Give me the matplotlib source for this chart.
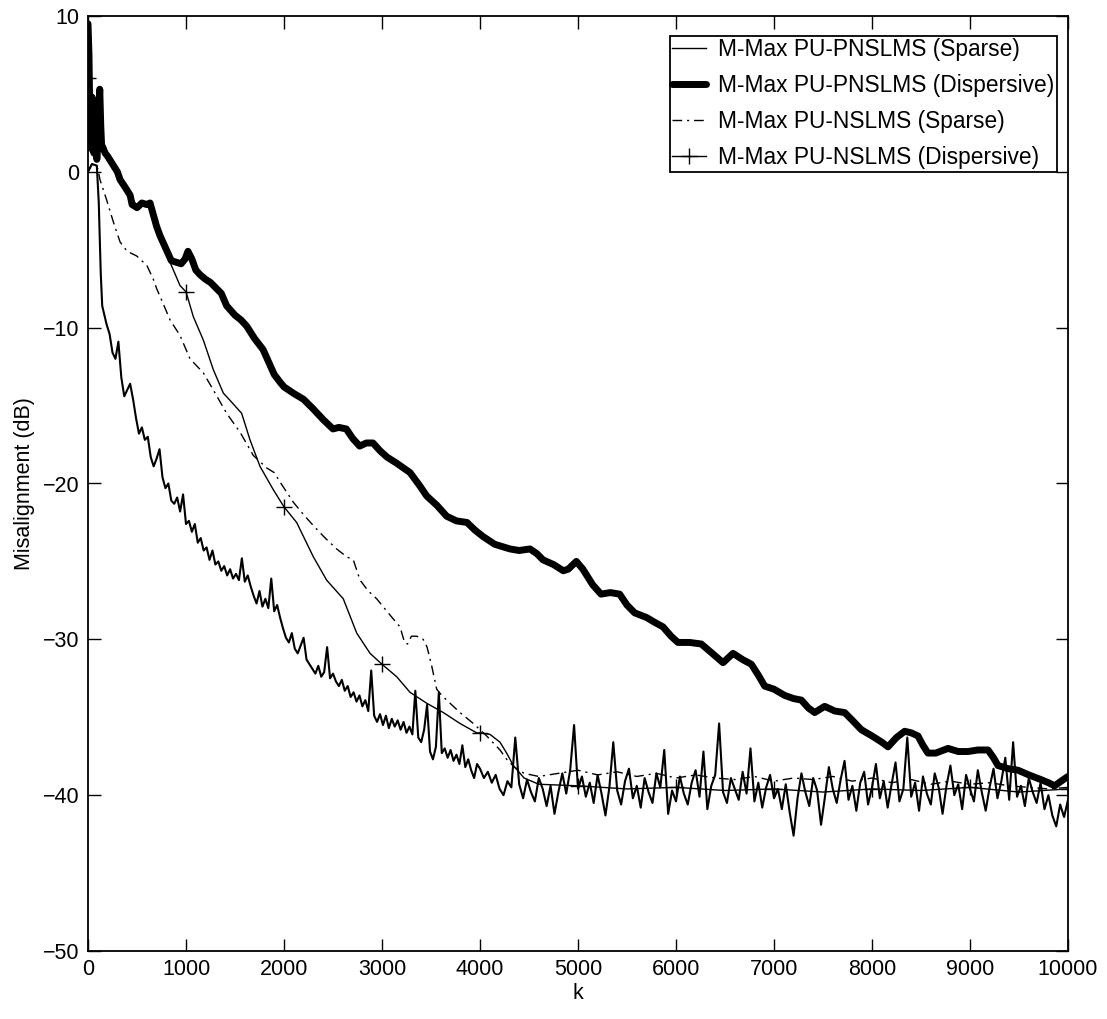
import numpy as np
import matplotlib
matplotlib.use("Agg")
import matplotlib.pyplot as plt

plt.rcParams['font.family'] = ['Liberation Sans', 'DejaVu Sans']

# ---------------- data ----------------
labels = ["M-Max PU-PNSLMS (Sparse)", "M-Max PU-PNSLMS (Dispersive)",
          "M-Max PU-NSLMS (Sparse)", "M-Max PU-NSLMS (Dispersive)"]

# PNSLMS sparse (noisy, fast)
pn_sparse_k_start = [0, 40, 90, 110, 130, 145]
pn_sparse_v_start = [0.0, 0.5, 0.4, -2.0, -6.5, -8.6]
pn_sparse_mid = [  # k = 160, 190, ... step 30
    -9.0, -9.8, -10.4, -11.6, -12.0, -10.9, -13.2, -14.4, -14.0, -13.6,
    -14.6, -15.8, -16.8, -16.4, -17.2, -17.0, -18.3, -18.9, -18.4, -17.8,
    -19.6, -20.3, -20.0, -21.1, -21.3, -20.9, -21.8, -20.7, -22.6, -22.4,
    -23.1, -22.6, -23.8, -23.5, -24.3, -24.1, -24.9, -24.3, -25.2, -25.0,
    -25.6, -25.3, -25.9, -25.5, -26.1, -25.8, -26.2, -24.8, -26.3, -25.9,
    -26.6, -27.2, -27.7, -26.9, -27.9, -27.4, -28.0, -26.1, -28.2, -27.8,
    -28.6, -29.3, -29.9, -30.2, -29.6, -30.6, -30.9, -30.4, -29.9, -31.3,
    -31.6, -31.9, -32.2, -31.7, -32.4, -32.1, -30.5, -32.5, -32.2, -32.7,
    -33.0, -32.6, -33.3, -33.0, -33.7, -33.4, -34.0, -33.6, -34.3, -33.9,
    -34.6, -32.0, -34.9, -35.3, -34.8, -35.5, -34.9, -35.7, -35.1, -35.6,
    -35.2, -35.8, -35.3, -36.0, -35.6, -36.1, -33.3, -36.3, -36.6, -35.8,
    -34.2, -37.2, -37.7, -36.9, -33.4, -37.3, -37.0, -37.6, -37.1, -37.8,
    -37.4, -38.0, -36.8, -38.2, -37.7, -38.4, -38.9, -38.0]
pn_sparse_tail = [  # k = 4000, 4040, ... step 40
    -38.3, -38.9, -38.5, -39.2, -38.7, -39.6, -40.0, -39.1, -39.5, -36.3,
    -39.3, -40.2, -39.0, -39.8, -40.4, -38.9, -39.6, -40.7, -39.4, -41.2,
    -39.8, -38.6, -39.9, -38.4, -35.5, -39.6, -38.8, -40.1, -39.2, -40.5,
    -38.7, -39.9, -41.3, -39.5, -36.6, -39.7, -40.6, -39.1, -38.3, -40.2,
    -39.4, -40.8, -38.9, -39.8, -40.5, -38.6, -39.5, -37.1, -41.2, -39.7,
    -40.4, -38.8, -39.9, -40.6, -39.2, -38.4, -40.1, -37.2, -40.9, -39.4,
    -38.7, -35.4, -39.8, -40.5, -38.9, -39.6, -40.3, -38.5, -39.9, -37.0,
    -40.4, -39.2, -40.8, -39.5, -38.7, -40.2, -39.6, -40.9, -39.3, -41.1,
    -42.6, -40.2, -38.6, -39.8, -40.7, -38.9, -39.7, -41.9, -40.1, -38.2,
    -39.6, -40.5, -39.0, -37.8, -40.3, -39.4, -41.0, -39.2, -38.5, -40.6,
    -39.5, -38.0, -40.2, -39.1, -40.8, -39.3, -37.9, -40.4, -39.6, -36.3,
    -40.1, -39.2, -41.0, -38.8, -39.9, -40.6, -38.6, -39.5, -41.2, -39.4,
    -38.1, -40.0, -39.3, -40.9, -38.7, -39.6, -40.4, -38.4, -39.8, -41.0,
    -39.5, -38.3, -40.2, -39.1, -37.6, -40.3, -36.6, -40.1, -39.4, -40.7,
    -38.9, -39.8, -40.5, -39.2, -40.9, -40.0, -41.3, -42.0, -40.6, -41.4,
    -40.3]

# PNSLMS dispersive (thick)
pn_disp_k = [0, 10, 20, 30, 40, 50, 60, 70, 80, 90, 100, 110, 120, 130, 140,
             150, 175, 200, 250, 300, 327, 380, 430, 450, 500, 550, 600, 633,
             660, 700, 735, 800, 850, 900, 950, 990, 1020, 1060, 1100, 1143,
             1200, 1250, 1313, 1360, 1415, 1500, 1560, 1619, 1700, 1786, 1850,
             1900, 1960, 2000, 2094, 2200, 2296, 2400, 2500, 2560, 2636, 2700,
             2772, 2840, 2908, 2980, 3050, 3150, 3286, 3380, 3456, 3560, 3660,
             3760, 3867, 3950, 4030, 4150, 4306, 4400, 4510, 4580, 4643, 4750,
             4850, 4900, 4983, 5050, 5150, 5235, 5330, 5425, 5500, 5578, 5700,
             5780, 5867, 5950, 6020, 6140, 6258, 6370, 6480, 6582, 6680, 6769,
             6840, 6905, 7000, 7109, 7200, 7279, 7350, 7415, 7517, 7620, 7721,
             7800, 7891, 8000, 8100, 8163, 8250, 8333, 8400, 8469, 8520, 8571,
             8650, 8776, 8880, 8980, 9080, 9184, 9240, 9286, 9390, 9490, 9600,
             9724, 9800, 9864, 9930, 10000]
pn_disp_v = [9.5, 7.5, 3.0, 1.5, 4.8, 2.5, 1.2, 4.6, 3.0, 0.8, 2.0, 4.0, 5.3,
             3.0, 1.5, 1.6, 1.2, 1.0, 0.5, 0.0, -0.5, -1.0, -1.5, -2.1, -2.3,
             -2.0, -2.1, -2.0, -2.6, -3.5, -4.1, -5.0, -5.7, -5.8, -5.9, -5.6,
             -5.1, -5.6, -6.3, -6.6, -6.9, -7.1, -7.5, -7.8, -8.6, -9.2, -9.5,
             -9.9, -10.7, -11.4, -12.3, -13.0, -13.5, -13.8, -14.2, -14.6,
             -15.2, -15.9, -16.5, -16.4, -16.5, -17.1, -17.6, -17.4, -17.4,
             -17.9, -18.3, -18.7, -19.3, -20.1, -20.8, -21.4, -22.1, -22.4,
             -22.5, -23.0, -23.4, -23.9, -24.2, -24.3, -24.2, -24.5, -24.9,
             -25.2, -25.6, -25.5, -25.0, -25.5, -26.5, -27.1, -27.0, -27.1,
             -27.8, -28.3, -28.6, -28.9, -29.2, -29.8, -30.2, -30.2, -30.3,
             -30.9, -31.5, -30.9, -31.3, -31.6, -32.3, -33.0, -33.2, -33.6,
             -33.8, -33.9, -34.4, -34.7, -34.3, -34.6, -34.7, -35.2, -35.8,
             -36.2, -36.6, -36.9, -36.3, -35.9, -36.0, -36.2, -36.8, -37.3,
             -37.3, -37.0, -37.2, -37.2, -37.1, -37.1, -37.6, -38.1, -38.3,
             -38.4, -38.7, -39.0, -39.2, -39.4, -39.1, -38.8]

# NSLMS sparse (dash-dot)
n_sparse_k = [0, 40, 100, 122, 190, 258, 327, 400, 497, 565, 600, 667, 701,
              770, 837, 939, 1041, 1177, 1279, 1415, 1551, 1687, 1823, 1900,
              1959, 2095, 2200, 2299, 2420, 2537, 2639, 2707, 2776, 2860, 2946,
              3050, 3116, 3184, 3230, 3260, 3300, 3354, 3420, 3460, 3507, 3558,
              3610, 3660, 3796, 3932, 4068, 4204, 4272, 4350, 4450, 4600, 4800,
              5000, 5200, 5400, 5600, 5800, 6000, 6200, 6400, 6600, 6800, 7000,
              7200, 7400, 7600, 7800, 8000, 8200, 8400, 8600, 8800, 9000, 9200,
              9400, 9600, 9800, 10000]
n_sparse_v = [0.0, 0.5, 0.2, -0.5, -1.8, -3.2, -4.5, -5.1, -5.4, -5.8, -6.0,
              -6.9, -7.5, -8.5, -9.5, -10.5, -12.0, -12.9, -14.0, -15.5, -16.7,
              -18.2, -19.0, -19.3, -19.9, -21.2, -22.0, -22.7, -23.5, -24.2,
              -24.7, -24.9, -26.2, -26.9, -27.4, -28.2, -28.7, -29.2, -30.2,
              -30.3, -29.8, -29.8, -30.0, -30.5, -31.7, -33.2, -33.6, -33.9,
              -34.7, -35.4, -36.2, -37.1, -37.7, -38.2, -38.6, -38.8, -38.6,
              -38.4, -38.7, -38.5, -38.8, -38.6, -38.9, -38.7, -38.9, -39.0,
              -38.8, -39.1, -38.9, -39.0, -38.8, -39.1, -38.9, -39.2, -39.0,
              -39.3, -39.1, -39.3, -39.2, -39.4, -39.5, -39.6, -39.5]

# NSLMS dispersive (thin with + markers)
n_disp_k = [0, 20, 50, 80, 120, 150, 200, 250, 327, 430, 500, 600, 660, 720,
            786, 837, 939, 1000, 1075, 1177, 1279, 1381, 1483, 1568, 1653,
            1755, 1891, 2000, 2129, 2299, 2435, 2605, 2742, 2878, 3000, 3150,
            3286, 3456, 3626, 3796, 3966, 4000, 4102, 4204, 4272, 4340, 4450,
            4600, 5000, 5500, 6000, 6500, 7000, 7500, 8000, 8500, 9000, 9500,
            10000]
n_disp_v = [6.0, 3.0, 2.5, 3.5, 4.5, 1.8, 1.0, 0.4, -0.5, -1.5, -2.2, -2.1,
            -2.6, -3.8, -4.8, -5.8, -7.3, -7.7, -9.3, -10.8, -12.7, -14.2,
            -14.9, -15.5, -17.2, -18.9, -20.4, -21.5, -22.5, -24.7, -26.2,
            -27.4, -29.6, -30.9, -31.6, -32.4, -33.4, -34.1, -34.7, -35.4,
            -36.0, -36.0, -36.1, -36.6, -37.3, -38.1, -38.9, -39.3, -39.4,
            -39.6, -39.5, -39.7, -39.6, -39.8, -39.6, -39.7, -39.5, -39.8,
            -39.6]

x_ticks = [0, 1000, 2000, 3000, 4000, 5000, 6000, 7000, 8000, 9000, 10000]
y_ticks = [-50, -40, -30, -20, -10, 0, 10]

# ---------------- assemble ----------------
pn_sparse_k = np.concatenate([np.array(pn_sparse_k_start, float),
                              160 + 30 * np.arange(len(pn_sparse_mid)),
                              4000 + 40 * np.arange(len(pn_sparse_tail))])
pn_sparse_v = np.concatenate([pn_sparse_v_start, pn_sparse_mid, pn_sparse_tail])

fig = plt.figure(figsize=(11.07, 10.19), dpi=100)
ax = fig.add_axes([88 / 1107, 1 - 951 / 1019, 980 / 1107, 935 / 1019])

l1, = ax.plot(pn_sparse_k, pn_sparse_v, color='black', lw=1.5, label=labels[0])
l2, = ax.plot(pn_disp_k, pn_disp_v, color='black', lw=5.0, solid_joinstyle='round',
              solid_capstyle='round', label=labels[1])
l3, = ax.plot(n_sparse_k, n_sparse_v, color='black', lw=1.0,
              linestyle=(0, (7, 3.5, 1.5, 3.5)), label=labels[2])
mk = [i for i, k in enumerate(n_disp_k) if k % 1000 == 0]
l4, = ax.plot(n_disp_k, n_disp_v, color='black', lw=1.0, marker='+', markersize=11,
              markeredgewidth=1.0, markevery=mk, label=labels[3])

ax.set_xlim(0, 10000)
ax.set_ylim(-50, 10)
ax.set_xticks(x_ticks)
ax.set_yticks(y_ticks)
ax.tick_params(direction='in', length=9, width=1.0, top=True, right=True,
               labelsize=15.5, pad=6)
for s in ax.spines.values():
    s.set_linewidth(1.3)

ax.set_xlabel('k', fontsize=15.5, labelpad=2)
ax.set_ylabel('Misalignment (dB)', fontsize=15.5, labelpad=6)

leg = ax.legend(loc='upper right', bbox_to_anchor=(1057 / 1107, 1 - 36 / 1019),
                bbox_transform=fig.transFigure, borderaxespad=0, fontsize=16.4,
                fancybox=False, framealpha=1, edgecolor='black',
                handlelength=1.5, handletextpad=0.55, labelspacing=0.57,
                borderpad=0.1)
leg.get_frame().set_linewidth(1.3)
leg.get_lines()[0].set_linewidth(1.0)

fig.savefig('out.png', dpi=100)
